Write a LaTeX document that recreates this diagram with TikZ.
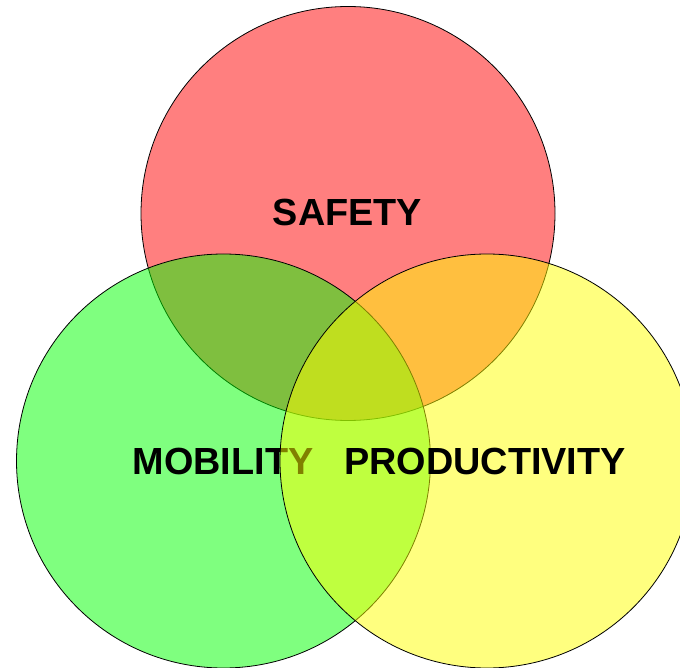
\documentclass[tikz,border=0pt]{standalone}
\usepackage{fontspec}
\setmainfont{Liberation Sans}
\begin{document}
\begin{tikzpicture}[x=1pt,y=-1pt,
  ring/.style={draw=black,line width=0.8pt,fill opacity=0.5,draw opacity=1},
  lbl/.style={font=\bfseries\fontsize{37.8}{40}\selectfont,anchor=base,inner sep=0pt,text=black}]
\useasboundingbox (0,0) rectangle (680,668);
\begin{scope}
\clip (0,0) rectangle (680,668);
\node[ring,fill={rgb,255:red,255;green,0;blue,0},circle,minimum size=414pt,inner sep=0pt] (safety) at (348,213.5) {};
\node[lbl] (tsafety) at (347.5,226) {SAFETY};
\node[ring,fill={rgb,255:red,0;green,255;blue,0},circle,minimum size=414pt,inner sep=0pt] (mobility) at (223.5,461) {};
\node[lbl] (tmobility) at (223,474) {MOBILITY};
\node[ring,fill={rgb,255:red,255;green,255;blue,0},circle,minimum size=414pt,inner sep=0pt] (productivity) at (487,461) {};
\node[lbl] (tproductivity) at (485,474) {PRODUCTIVITY};
\end{scope}
\end{tikzpicture}
\end{document}
